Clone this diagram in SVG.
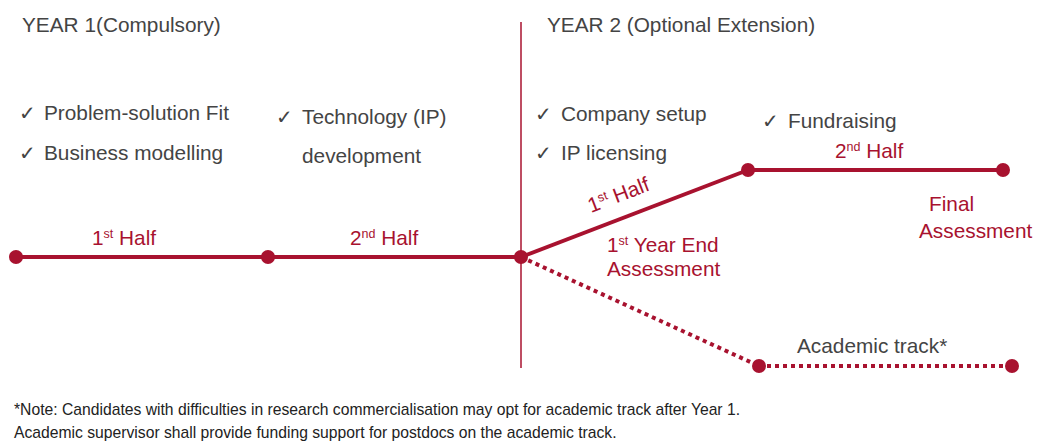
<svg xmlns="http://www.w3.org/2000/svg" width="1045" height="444" viewBox="0 0 1045 444">
<style>
.t{font-family:"Liberation Sans",Arial,sans-serif;fill:#444;font-size:20.8px}
.c{font-family:"DejaVu Sans",sans-serif;fill:#444;font-size:20px}
.r{font-family:"Liberation Sans",Arial,sans-serif;fill:#a8122f;font-size:20.8px}
.n{font-family:"Liberation Sans",Arial,sans-serif;fill:#222;font-size:15.7px}
.sup{font-size:12.5px}
.ln{stroke:#a8122f;stroke-width:4;fill:none}
.dt{stroke:#a8122f;stroke-width:4;fill:none;stroke-dasharray:4 4}
.dot{fill:#a8122f}
</style>
<rect width="1045" height="444" fill="#fff"/>
<g id="connectors">
<line x1="521" y1="22" x2="521" y2="368" stroke="#a8122f" stroke-width="1.5"/>
<line class="ln" x1="16" y1="257" x2="521" y2="257"/>
<line class="ln" x1="521" y1="257" x2="748" y2="170"/>
<line class="ln" x1="748" y1="170" x2="1003" y2="170"/>
<line class="dt" x1="521" y1="257" x2="759" y2="366"/>
<line class="dt" x1="759" y1="366" x2="1012" y2="366"/>
</g>
<g id="nodes">
<g id="n1"><circle class="dot" cx="16" cy="257" r="7"/></g>
<g id="n2"><circle class="dot" cx="268" cy="257" r="7"/></g>
<g id="n3"><circle class="dot" cx="521" cy="257" r="7"/></g>
<g id="n4"><circle class="dot" cx="748" cy="170" r="7"/></g>
<g id="n5"><circle class="dot" cx="1003" cy="170" r="7"/></g>
<g id="n6"><circle class="dot" cx="759" cy="366" r="7"/></g>
<g id="n7"><circle class="dot" cx="1012" cy="366" r="7"/></g>
</g>
<g id="labels">
<text class="t" x="22" y="32">YEAR 1(Compulsory)</text>
<text class="t" x="547" y="32">YEAR 2 (Optional Extension)</text>
<text class="c" x="19" y="120">✓</text><text class="t" x="44" y="120">Problem-solution Fit</text>
<text class="c" x="19" y="160">✓</text><text class="t" x="44" y="160">Business modelling</text>
<text class="c" x="276" y="124">✓</text><text class="t" x="302" y="124">Technology (IP)</text>
<text class="t" x="302" y="163">development</text>
<text class="c" x="535" y="121">✓</text><text class="t" x="561" y="121">Company setup</text>
<text class="c" x="535" y="160">✓</text><text class="t" x="561" y="160">IP licensing</text>
<text class="c" x="762" y="128">✓</text><text class="t" x="788" y="128">Fundraising</text>
<text class="r" x="92" y="245">1<tspan class="sup" dy="-7">st</tspan><tspan dy="7"> Half</tspan></text>
<text class="r" x="350" y="245">2<tspan class="sup" dy="-7">nd</tspan><tspan dy="7"> Half</tspan></text>
<text class="r" x="835" y="158">2<tspan class="sup" dy="-7">nd</tspan><tspan dy="7"> Half</tspan></text>
<text class="r" transform="translate(591,213) rotate(-21)">1<tspan class="sup" dy="-7">st</tspan><tspan dy="7"> Half</tspan></text>
<text class="r" x="607" y="252">1<tspan class="sup" dy="-7">st</tspan><tspan dy="7"> Year End</tspan></text>
<text class="r" x="607" y="276">Assessment</text>
<text class="r" x="929" y="211">Final</text>
<text class="r" x="919" y="238">Assessment</text>
<text class="t" x="797" y="353">Academic track*</text>
<text class="n" x="14" y="415">*Note: Candidates with difficulties in research commercialisation may opt for academic track after Year 1.</text>
<text class="n" x="14" y="438">Academic supervisor shall provide funding support for postdocs on the academic track.</text>
</g>
</svg>
